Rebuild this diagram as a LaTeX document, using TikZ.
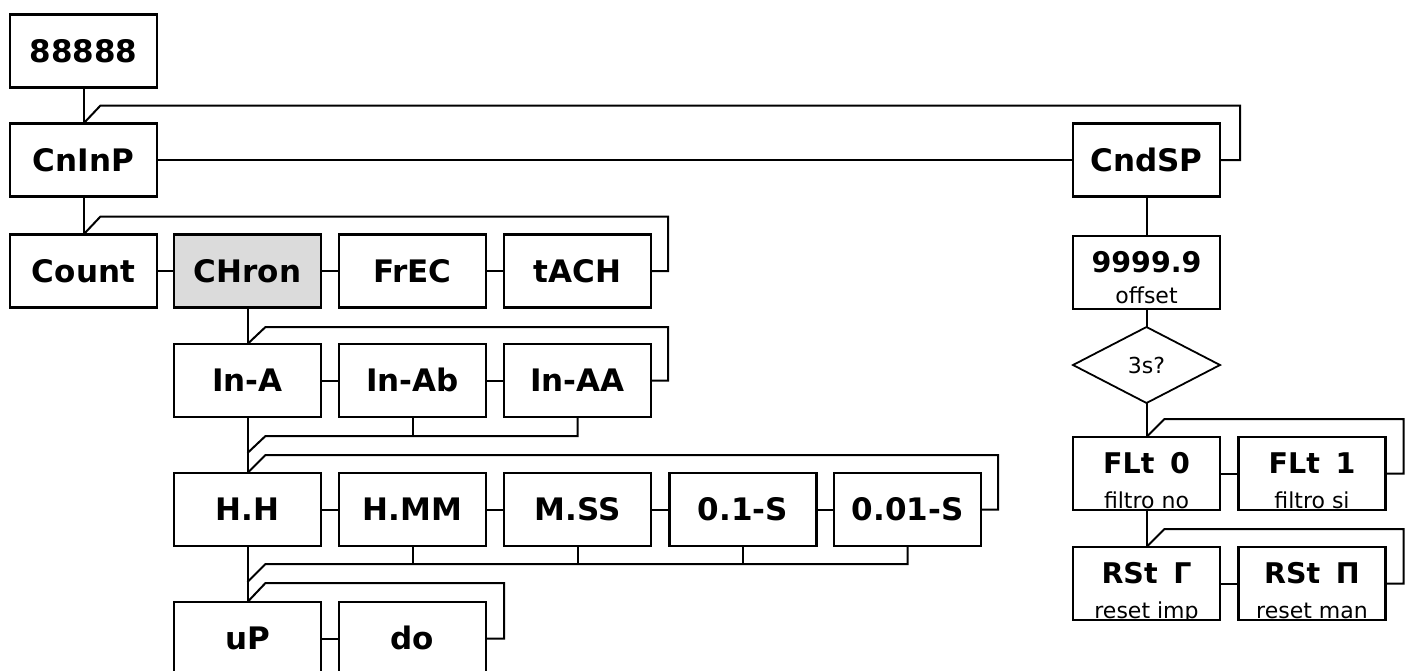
\documentclass[tikz,border=0pt]{standalone}
\usepackage{fontspec}
\setmainfont{DejaVu Sans}
\usetikzlibrary{shapes.geometric,calc}
\begin{document}
\begin{tikzpicture}[x=1pt,y=-1pt,
  box/.style={draw, line width=2.4pt, minimum width=147pt, minimum height=73pt, inner sep=0pt, outer sep=0pt,
              font=\fontsize{31}{31}\selectfont\bfseries, text height=22.6pt, text depth=0pt},
  hl/.style={box, fill=black!14},
  wire/.style={line width=2pt},
  big/.style={font=\fontsize{28.5}{28.5}\selectfont\bfseries, inner sep=0pt, anchor=base},
  small/.style={font=\fontsize{22}{22}\selectfont, inner sep=0pt, anchor=base},
  dia/.style={draw, line width=1.8pt, shape=diamond, inner sep=0pt, outer sep=0pt,
              minimum width=147pt, minimum height=76pt, font=\fontsize{22}{22}\selectfont},
]
\useasboundingbox (0,0) rectangle (1413,670);

% left tree
\node[box] (n88) at (83.5,51) {88888};
\node[box] (cninp) at (83.5,160) {CnInP};
\node[box] (count) at (83.5,271) {Count};
\node[hl]  (chron) at (247.5,271) {CHron};
\node[box] (frec)  at (412.5,271) {FrEC};
\node[box] (tach)  at (577.5,271) {tACH};
\node[box] (ina)   at (247.5,380.5) {In-A};
\node[box] (inab)  at (412.5,380.5) {In-Ab};
\node[box] (inaa)  at (577.5,380.5) {In-AA};
\node[box] (hh)    at (247.5,509.5) {H.H};
\node[box] (hmm)   at (412.5,509.5) {H.MM};
\node[box] (mss)   at (577.5,509.5) {M.SS};
\node[box] (s01)   at (743,509.5) {0.1-S};
\node[box] (s001)  at (907.5,509.5) {0.01-S};
\node[box] (up)    at (247.5,638.5) {uP};
\node[box] (do)    at (412.5,638.5) {do};

% right column
\node[box] (cndsp) at (1146.5,160) {CndSP};
\node[box] (off)   at (1146.5,272.5) {};
\node[big] (offm) at ($(off.north)+(0,36)$) {9999.9};
\node[small] (offs) at ($(off.south)+(0,-6)$) {offset};
\node[dia] (q3) at (1146.5,365) {3s?};
\node[box] (flt0) at (1146.5,473.5) {};
\node[box] (flt1) at (1312,473.5) {};
\node[box] (rst0) at (1146.5,583.5) {};
\node[box] (rst1) at (1312,583.5) {};
\node[big] (flt0m) at ($(flt0.north)+(0,36)$) {FLt\hspace{0.55em}0};
\node[big] (flt1m) at ($(flt1.north)+(0,36)$) {FLt\hspace{0.55em}1};
\node[big] (rst0m) at ($(rst0.north)+(0,36)$) {RSt\hspace{0.55em}Γ};
\node[big] (rst1m) at ($(rst1.north)+(0,36)$) {RSt\hspace{0.55em}Π};
\begin{scope}
  \clip (flt0.south west) rectangle (flt0.north east);
  \node[small] (flt0s) at ($(flt0.south)+(0,-1.5)$) {filtro no};
\end{scope}
\begin{scope}
  \clip (flt1.south west) rectangle (flt1.north east);
  \node[small] (flt1s) at ($(flt1.south)+(0,-1.5)$) {filtro si};
\end{scope}
\begin{scope}
  \clip (rst0.south west) rectangle (rst0.north east);
  \node[small] (rst0s) at ($(rst0.south)+(0,-1.5)$) {reset imp};
\end{scope}
\begin{scope}
  \clip (rst1.south west) rectangle (rst1.north east);
  \node[small] (rst1s) at ($(rst1.south)+(0,-1.5)$) {reset man};
\end{scope}

% connectors: top level
\draw[wire] (n88.south) -- (cninp.north);
\draw[wire] (cninp.north) -- ++(17,-18) -| ([xshift=20pt]cndsp.east) -- (cndsp.east);
\draw[wire] (cninp.east) -- (cndsp.west);

% Count row
\draw[wire] (cninp.south) -- (count.north);
\draw[wire] (count.north) -- ++(17,-18) -| ([xshift=17pt]tach.east) -- (tach.east);
\draw[wire] (count.east) -- (chron.west);
\draw[wire] (chron.east) -- (frec.west);
\draw[wire] (frec.east) -- (tach.west);

% In-A row
\draw[wire] (chron.south) -- (ina.north);
\draw[wire] (ina.north) -- ++(18,-17) -| ([xshift=17pt]inaa.east) -- (inaa.east);
\draw[wire] (ina.east) -- (inab.west);
\draw[wire] (inab.east) -- (inaa.west);
\draw[wire] (ina.south) -- (hh.north);
\coordinate (d1) at ($(hh.north)+(0,-20)$);
\coordinate (d1t) at ($(d1)+(18,-17)$);
\draw[wire] (inaa.south) |- (d1t) -- (d1);
\draw[wire] (inab.south) -- (inab.south |- d1t);

% H.H row
\draw[wire] (hh.north) -- ++(18,-18) -| ([xshift=17pt]s001.east) -- (s001.east);
\draw[wire] (hh.east) -- (hmm.west);
\draw[wire] (hmm.east) -- (mss.west);
\draw[wire] (mss.east) -- (s01.west);
\draw[wire] (s01.east) -- (s001.west);
\draw[wire] (hh.south) -- (up.north);
\coordinate (d2) at ($(up.north)+(0,-20)$);
\coordinate (d2t) at ($(d2)+(18,-18)$);
\draw[wire] (s001.south) |- (d2t) -- (d2);
\draw[wire] (hmm.south) -- (hmm.south |- d2t);
\draw[wire] (mss.south) -- (mss.south |- d2t);
\draw[wire] (s01.south) -- (s01.south |- d2t);

% uP row
\draw[wire] (up.north) -- ++(18,-19) -| ([xshift=18pt]do.east) -- (do.east);
\draw[wire] (up.east) -- (do.west);

% right column
\draw[wire] (cndsp.south) -- (off.north);
\draw[wire] (off.south) -- (q3.north);
\draw[wire] (q3.south) -- (flt0.north);
\draw[wire] (flt0.north) -- ++(18,-18) -| ([xshift=18pt]flt1.east) -- (flt1.east);
\draw[wire] (flt0.east) -- (flt1.west);
\draw[wire] (flt0.south) -- (rst0.north);
\draw[wire] (rst0.north) -- ++(18,-18) -| ([xshift=18pt]rst1.east) -- (rst1.east);
\draw[wire] (rst0.east) -- (rst1.west);
\end{tikzpicture}
\end{document}
